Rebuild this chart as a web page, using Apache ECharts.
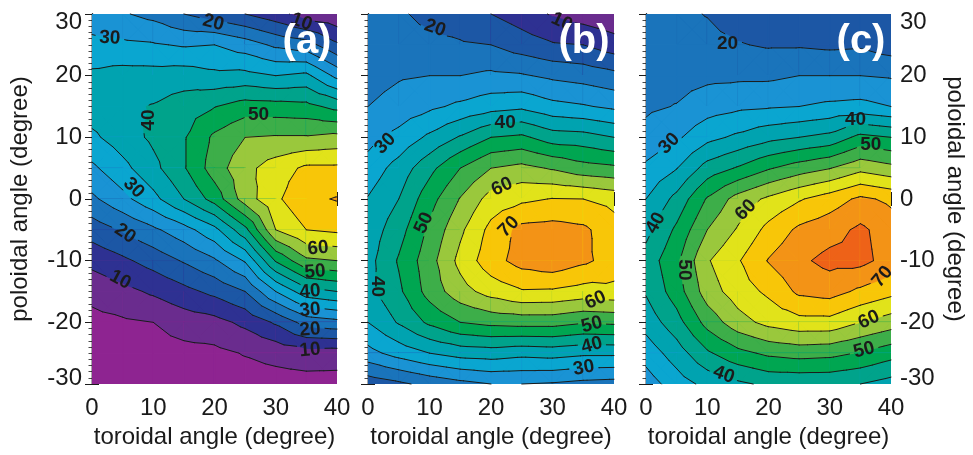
<!DOCTYPE html>
<html>
<head>
<meta charset="utf-8">
<script src="https://cdn.jsdelivr.net/npm/echarts@6.0.0/dist/echarts.min.js"></script>
<style>
  html, body { margin: 0; padding: 0; background: #ffffff; }
  #chart { width: 973px; height: 455px; }
</style>
</head>
<body>
<div id="chart"></div>
<script>
// Sample grid of the measured field (degrees)
const toroidal = [0, 5, 10, 15, 20, 25, 30, 35, 40];
const poloidal = [30, 25, 20, 15, 10, 5, 0, -5, -10, -15, -20, -25, -30];

// Contour levels and the fill colour of each 5-wide band (0-5, 5-10, ... 75-80)
const levels = [5, 10, 15, 20, 25, 30, 35, 40, 45, 50, 55, 60, 65, 70, 75];
const bandColors = [
  '#8e2491', '#6a2c8e', '#2e3192', '#1c57a5', '#1a74bb', '#1a93d4',
  '#0aa6d0', '#00a3b0', '#00a38b', '#00a651', '#3dae49', '#9ac83c',
  '#e1e31a', '#f8c608', '#f39316', '#ee6218'
];

// Axis ticks
const xTicks = [0, 10, 20, 30, 40];
const yTicks = [-30, -20, -10, 0, 10, 20, 30];

// Field values, one row per poloidal angle (top row = 30), one column per toroidal angle
const fieldA = [
  [27, 25.5, 23.5, 20, 17.5, 15, 12, 7.5, 6],
  [31.5, 31, 30.5, 29.5, 30, 27.5, 24, 22.2, 15.8],
  [36, 37, 37, 37.5, 36.2, 36.5, 35, 36.2, 28.6],
  [37.5, 39, 40.3, 42.5, 44.8, 47.3, 47, 46.5, 43.5],
  [34, 37.5, 41, 44.5, 51, 55, 55.5, 55.5, 56.5],
  [29, 33.5, 38.5, 44.5, 52.5, 58.5, 62.5, 66, 66],
  [24, 28.5, 33.5, 40, 47, 57.5, 64, 69, 70.3],
  [17.3, 20.5, 24, 28, 33.5, 43.5, 60, 65, 66],
  [11.5, 14, 17, 20.5, 24.3, 30.5, 45.5, 54, 55],
  [6.5, 8.5, 10.8, 13.5, 16.3, 20, 30, 38, 40],
  [3.5, 4.3, 5, 7.2, 8.3, 11.2, 15.7, 22, 23.5],
  [2.3, 2.5, 3, 3.5, 3.8, 5.3, 6.5, 7.8, 7.5],
  [1.5, 1.5, 2, 2, 2, 2.5, 3, 3, 3]
];
const fieldB = [
  [21, 20.5, 19, 17.5, 15, 12.5, 9.5, 7.5, 6],
  [22, 21.5, 21, 20.5, 20, 17.5, 15.5, 15, 12.3],
  [23, 24.5, 25, 25, 26, 25.5, 24, 23, 21.5],
  [25, 27, 29, 31, 33, 34, 31.5, 30.5, 29],
  [28.3, 31.5, 36, 40.5, 45, 46, 42.5, 42, 40],
  [32, 37, 43.5, 50, 55, 56.5, 54.5, 52, 51],
  [35.3, 40, 48, 55.3, 62, 64, 65.2, 65, 63.5],
  [37, 43, 51, 59, 66.5, 71.5, 72, 71, 67],
  [38.2, 45.5, 53, 61.5, 68, 72, 73.5, 71, 68],
  [38.6, 44, 52, 58, 62, 64.5, 64.3, 63, 63.5],
  [35, 40.5, 46, 50, 51.5, 52, 52, 50.5, 51],
  [28.3, 32, 35, 37, 37.5, 36.5, 37, 36, 36],
  [17, 19, 21.5, 23.5, 25, 25, 24.5, 23.5, 23]
];
const fieldC = [
  [22, 21, 19.8, 17.5, 17.5, 17.5, 17.5, 17, 16],
  [22.5, 22, 21.5, 20.3, 19.5, 19.5, 19, 19.3, 17.5],
  [23.3, 23.3, 23.8, 24, 24, 25, 25, 25, 24.5],
  [24.2, 25.2, 27.8, 29, 29.5, 30, 31, 31.5, 30],
  [26.5, 29.2, 33.5, 36, 38.5, 40, 41.5, 46.5, 45],
  [31, 34.8, 42, 45.5, 49.5, 52.5, 54.8, 58.5, 56.5],
  [35, 41.5, 50.5, 57, 61, 64.5, 67.5, 71, 69],
  [38.5, 46, 55, 60.5, 66.5, 71, 73, 76, 72.5],
  [42, 49, 59.5, 64.5, 70.3, 74, 76.5, 76.5, 73],
  [40.5, 47.5, 57.5, 62.5, 66, 71, 72, 69, 66.5],
  [37, 43, 51.8, 58, 61.5, 63.3, 63.3, 60, 57.5],
  [32, 37.5, 44.2, 48.5, 51, 52, 51.5, 49.6, 47],
  [27.5, 32.5, 36.5, 39, 41, 41, 41, 40, 38]
];

// Contour labels: [toroidal, poloidal, level, text rotation in degrees]
const labelsA = [
  [2.9, 26.1, 30, -3], [19.8, 28.6, 20, -15], [34.2, 28.7, 10, -20],
  [9.2, 12.8, 40, 90], [27.2, 13.6, 50, 0], [6.8, 1.8, 30, -45],
  [5.4, -5.6, 20, -35], [4.6, -13.1, 10, -28],
  [36.9, -8, 60, 5], [36.4, -11.8, 50, 5], [35.6, -15, 40, 5],
  [35.6, -18, 30, 5], [35.6, -21.2, 20, 5], [35.6, -24.5, 10, 5]
];
const labelsB = [
  [10.9, 27.7, 20, -20], [31.5, 28.7, 10, -25], [22.3, 12.3, 40, 0],
  [2.8, 9, 30, 45], [21.8, 2, 60, 25], [9.1, -3.9, 50, 65],
  [22.9, -4.5, 70, 45], [1.5, -14.2, 40, -90],
  [37, -16.4, 60, 25], [36.4, -20.4, 50, 15], [36.4, -23.7, 40, 15], [35.1, -27.4, 30, 10]
];
const labelsC = [
  [13.3, 25.2, 20, 0], [3.8, 9, 30, 45], [34.2, 12.8, 40, 0], [36.7, 8.8, 50, 0],
  [1.6, -3.9, 40, 60], [16.3, -1.8, 60, 45], [6.2, -11.5, 50, -90],
  [38.6, -12.6, 70, 50], [36.4, -19.6, 60, 25], [35.6, -24.5, 50, 15], [12.7, -28.5, 40, -20]
];

const panelNames = ['(a)', '(b)', '(c)'];

const FONT = '"Liberation Sans", Arial, Helvetica, sans-serif';
const STEP = 5;
const INK = '#1b1b1b';

// ---- contouring helpers ----
function cellCorners(field, api) {
  const ci = api.value(2), ri = api.value(3);
  const raw = [
    [toroidal[ci], poloidal[ri], field[ri][ci]],
    [toroidal[ci + 1], poloidal[ri], field[ri][ci + 1]],
    [toroidal[ci + 1], poloidal[ri + 1], field[ri + 1][ci + 1]],
    [toroidal[ci], poloidal[ri + 1], field[ri + 1][ci]]
  ];
  return raw.map(function (p) {
    const c = api.coord([p[0], p[1]]);
    return [c[0], c[1], p[2]];
  });
}

// split a cell into four triangles around its centre
function trianglesOf(q) {
  const c = [
    (q[0][0] + q[1][0] + q[2][0] + q[3][0]) / 4,
    (q[0][1] + q[1][1] + q[2][1] + q[3][1]) / 4,
    (q[0][2] + q[1][2] + q[2][2] + q[3][2]) / 4
  ];
  return [[q[0], q[1], c], [q[1], q[2], c], [q[2], q[3], c], [q[3], q[0], c]];
}

// keep the part of a polygon where value >= L
function clipAbove(poly, L) {
  const out = [];
  for (let i = 0; i < poly.length; i++) {
    const a = poly[i], b = poly[(i + 1) % poly.length];
    const ain = a[2] >= L, bin = b[2] >= L;
    if (ain) out.push(a);
    if (ain !== bin) {
      const t = (L - a[2]) / (b[2] - a[2]);
      out.push([a[0] + t * (b[0] - a[0]), a[1] + t * (b[1] - a[1]), L]);
    }
  }
  return out;
}

// remove the part of a segment that falls inside a label's ellipse
function cutEllipse(seg, g) {
  const A = 15, B = 10;
  const cs = Math.cos(g.th), sn = Math.sin(g.th);
  const toLocal = function (p) {
    const dx = p[0] - g.cx, dy = p[1] - g.cy;
    return [(dx * cs - dy * sn) / A, (dx * sn + dy * cs) / B];
  };
  const p0 = toLocal(seg[0]), p1 = toLocal(seg[1]);
  const du = p1[0] - p0[0], dw = p1[1] - p0[1];
  const qa = du * du + dw * dw;
  const qb = 2 * (p0[0] * du + p0[1] * dw);
  const qc = p0[0] * p0[0] + p0[1] * p0[1] - 1;
  if (qa < 1e-12) return qc < 0 ? [] : [seg];
  const disc = qb * qb - 4 * qa * qc;
  if (disc <= 0) return [seg];
  const r = Math.sqrt(disc);
  const t1 = (-qb - r) / (2 * qa), t2 = (-qb + r) / (2 * qa);
  if (t2 <= 0 || t1 >= 1) return [seg];
  const at = function (t) {
    return [seg[0][0] + t * (seg[1][0] - seg[0][0]), seg[0][1] + t * (seg[1][1] - seg[0][1])];
  };
  const pieces = [];
  if (t1 > 0) pieces.push([seg[0], at(t1)]);
  if (t2 < 1) pieces.push([at(t2), seg[1]]);
  return pieces;
}

function bandIndex(v) {
  return Math.max(0, Math.min(bandColors.length - 1, Math.floor(v / STEP)));
}

// each cell: a base square in its lowest band, then the regions above each
// crossed level stacked on top
function fillRenderer(field) {
  return function (params, api) {
    const quad = cellCorners(field, api);
    const vs = quad.map(function (p) { return p[2]; });
    const kMin = bandIndex(Math.min.apply(null, vs));
    const kMax = bandIndex(Math.max.apply(null, vs));
    const children = [{
      type: 'polygon',
      shape: { points: quad.map(function (p) { return [p[0], p[1]]; }) },
      style: { fill: bandColors[kMin], stroke: bandColors[kMin], lineWidth: 1.2 },
      silent: true
    }];
    const tris = trianglesOf(quad);
    for (let k = kMin + 1; k <= kMax; k++) {
      tris.forEach(function (tri) {
        const poly = clipAbove(tri, k * STEP);
        if (poly.length < 3) return;
        children.push({
          type: 'polygon',
          shape: { points: poly.map(function (p) { return [p[0], p[1]]; }) },
          style: { fill: bandColors[k], stroke: bandColors[k], lineWidth: 0.9, lineJoin: 'round' },
          silent: true
        });
      });
    }
    return { type: 'group', children: children };
  };
}

function lineRenderer(field, labels) {
  return function (params, api) {
    const gaps = labels.map(function (l) {
      const c = api.coord([l[0], l[1]]);
      return { cx: c[0], cy: c[1], level: l[2], th: l[3] * Math.PI / 180 };
    });
    const children = [];
    trianglesOf(cellCorners(field, api)).forEach(function (tri) {
      levels.forEach(function (L) {
        const pts = [];
        for (let i = 0; i < 3; i++) {
          const a = tri[i], b = tri[(i + 1) % 3];
          if ((a[2] >= L) !== (b[2] >= L)) {
            const t = (L - a[2]) / (b[2] - a[2]);
            pts.push([a[0] + t * (b[0] - a[0]), a[1] + t * (b[1] - a[1])]);
          }
        }
        if (pts.length !== 2) return;
        let pieces = [[pts[0], pts[1]]];
        gaps.forEach(function (g) {
          if (g.level !== L) return;
          let next = [];
          pieces.forEach(function (s) { next = next.concat(cutEllipse(s, g)); });
          pieces = next;
        });
        pieces.forEach(function (s) {
          children.push({
            type: 'line',
            shape: { x1: s[0][0], y1: s[0][1], x2: s[1][0], y2: s[1][1] },
            style: { stroke: INK, lineWidth: 1, lineCap: 'round' },
            silent: true
          });
        });
      });
    });
    return { type: 'group', children: children };
  };
}

function labelRenderer(params, api) {
  const p = api.coord([api.value(0), api.value(1)]);
  return {
    type: 'text',
    x: p[0], y: p[1],
    rotation: api.value(3) * Math.PI / 180,
    style: {
      text: String(api.value(2)),
      fill: INK,
      fontSize: 19, fontWeight: 'bold', fontFamily: FONT,
      align: 'center', verticalAlign: 'middle'
    },
    silent: true
  };
}

// cells: [centre toroidal, centre poloidal, column index, row index]
const cells = [];
for (let ri = 0; ri < poloidal.length - 1; ri++) {
  for (let ci = 0; ci < toroidal.length - 1; ci++) {
    cells.push([(toroidal[ci] + toroidal[ci + 1]) / 2, (poloidal[ri] + poloidal[ri + 1]) / 2, ci, ri]);
  }
}

// ---- layout ----
const panels = [
  { field: fieldA, labels: labelsA, left: 92, width: 245, yLabels: 'left' },
  { field: fieldB, labels: labelsB, left: 368, width: 246, yLabels: null },
  { field: fieldC, labels: labelsC, left: 646, width: 245, yLabels: 'right' }
];

const frameLine = { show: true, lineStyle: { color: INK, width: 1.4 } };
const majorTick = { show: true, inside: true, length: 7, lineStyle: { color: INK, width: 1 } };
const minorTick = { show: true, splitNumber: 10, length: 3.5, lineStyle: { color: INK, width: 0.8 } };
const tickFont = { fontSize: 24, fontFamily: FONT, color: '#1a1a1a' };

function yFormatter(v) {
  if (v === yTicks[yTicks.length - 1]) return '{top|' + v + '}';
  if (v === yTicks[0]) return '{bot|' + v + '}';
  return String(v);
}
const yRich = {
  top: { fontSize: 24, fontFamily: FONT, color: '#1a1a1a', padding: [16, 0, 0, 0] },
  bot: { fontSize: 24, fontFamily: FONT, color: '#1a1a1a', padding: [0, 0, 12, 0] }
};

const grids = [], xAxes = [], yAxes = [], series = [], graphics = [];
panels.forEach(function (p, i) {
  grids.push({ left: p.left, top: 14, width: p.width, height: 370 });
  const xBase = {
    type: 'value', gridIndex: i, min: xTicks[0], max: xTicks[xTicks.length - 1],
    interval: xTicks[1] - xTicks[0],
    axisLine: frameLine, axisTick: majorTick, minorTick: minorTick,
    splitLine: { show: false }, minorSplitLine: { show: false }
  };
  xAxes.push(Object.assign({}, xBase, {
    position: 'bottom',
    axisLabel: Object.assign({ show: true, margin: 12 }, tickFont),
    name: 'toroidal angle (degree)', nameLocation: 'middle', nameGap: 40,
    nameTextStyle: { fontSize: 24, fontFamily: FONT, color: '#1a1a1a' }
  }));
  xAxes.push(Object.assign({}, xBase, { position: 'top', axisLabel: { show: false } }));

  const yBase = {
    type: 'value', gridIndex: i, min: yTicks[0], max: yTicks[yTicks.length - 1],
    interval: yTicks[1] - yTicks[0],
    axisLine: frameLine, axisTick: majorTick, minorTick: minorTick,
    splitLine: { show: false }, minorSplitLine: { show: false }
  };
  const yName = {
    name: 'poloidal angle (degree)', nameLocation: 'middle',
    nameTextStyle: { fontSize: 24, fontFamily: FONT, color: '#1a1a1a' }
  };
  const leftY = Object.assign({}, yBase, { position: 'left',
    axisLabel: Object.assign({ show: p.yLabels === 'left', margin: 10, formatter: yFormatter, rich: yRich }, tickFont) });
  if (p.yLabels === 'left') Object.assign(leftY, yName, { nameGap: 60, nameRotate: 90 });
  const rightY = Object.assign({}, yBase, { position: 'right',
    axisLabel: Object.assign({ show: p.yLabels === 'right', margin: 9, formatter: yFormatter, rich: yRich }, tickFont) });
  if (p.yLabels === 'right') Object.assign(rightY, yName, { nameGap: 52, nameRotate: -90 });
  yAxes.push(leftY, rightY);

  series.push({
    type: 'custom', xAxisIndex: 2 * i, yAxisIndex: 2 * i, data: cells,
    encode: { x: 0, y: 1 }, renderItem: fillRenderer(p.field), z: 1, silent: true, clip: true
  });
  series.push({
    type: 'custom', xAxisIndex: 2 * i, yAxisIndex: 2 * i, data: cells,
    encode: { x: 0, y: 1 }, renderItem: lineRenderer(p.field, p.labels), z: 2, silent: true
  });
  series.push({
    type: 'custom', xAxisIndex: 2 * i, yAxisIndex: 2 * i, data: p.labels,
    encode: { x: 0, y: 1 }, renderItem: labelRenderer, z: 3, silent: true
  });

  graphics.push({
    type: 'text', z: 100,
    x: p.left + p.width - 30, y: 42,
    style: {
      text: panelNames[i], fill: '#ffffff',
      fontSize: 40, fontWeight: 'bold', fontFamily: FONT,
      align: 'center', verticalAlign: 'middle'
    }
  });
});

const chart = echarts.init(document.getElementById('chart'));
chart.setOption({
  animation: false,
  backgroundColor: '#ffffff',
  grid: grids,
  xAxis: xAxes,
  yAxis: yAxes,
  series: series,
  graphic: graphics
});
</script>
</body>
</html>
